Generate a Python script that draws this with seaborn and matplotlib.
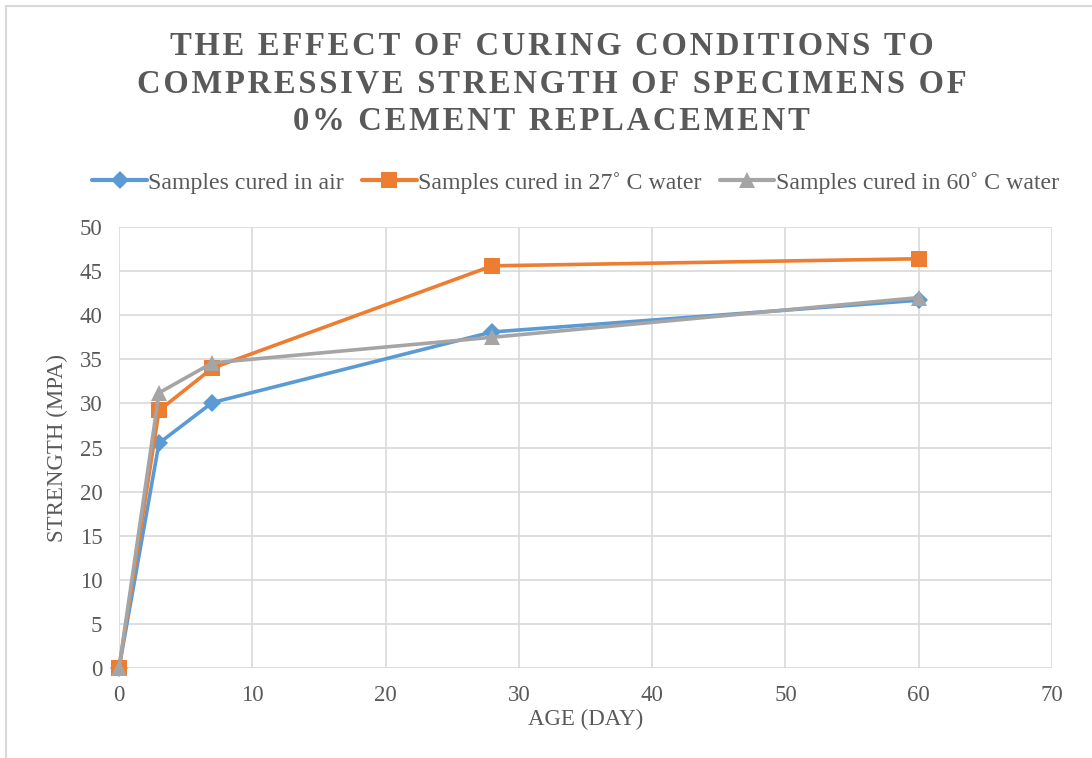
import matplotlib
matplotlib.use("Agg")
import matplotlib.pyplot as plt
from matplotlib.lines import Line2D
import seaborn as sns

# data
days = [0, 3, 7, 28, 60]
air = [0, 25.5, 30.1, 38.1, 41.7]
water_27 = [0, 29.2, 34.0, 45.6, 46.4]
water_60 = [0, 31.2, 34.6, 37.5, 42.0]

labels = ["Samples cured in air",
          "Samples cured in 27\u02da C water",
          "Samples cured in 60\u02da C water"]
title_lines = ["THE EFFECT OF CURING CONDITIONS TO",
               "COMPRESSIVE STRENGTH OF SPECIMENS OF",
               "0% CEMENT REPLACEMENT"]
colors = ["#5B9BD5", "#ED7D31", "#A5A5A5"]
markers = ["D", "s", "^"]
msizes = [9, 12, 11]

sns.set_theme(style="white")
plt.rcParams['font.family'] = ['Liberation Serif', 'DejaVu Serif']

fig = plt.figure(figsize=(10.92, 7.58), dpi=100)
ax = fig.add_axes([0.109, 0.1187, 0.8544, 0.5818])

for vals, lab, col, mk, ms in zip([air, water_27, water_60], labels, colors, markers, msizes):
    sns.lineplot(x=days, y=vals, ax=ax, color=col, marker=mk, markersize=ms,
                 markeredgewidth=0, linewidth=2.6, label=lab, legend=False, clip_on=False)

ax.set_xlim(0, 70)
ax.set_ylim(0, 50)
ax.set_xticks(range(0, 71, 10))
ax.set_yticks(range(0, 51, 5))
ax.grid(True, color="#D9D9D9", linewidth=1.2)
ax.set_axisbelow(True)
for s in ax.spines.values():
    s.set_visible(False)
ax.tick_params(axis="both", labelsize=16.5, labelcolor="#595959", length=0)
ax.tick_params(axis="x", pad=12)
ax.tick_params(axis="y", pad=12)

ax.set_xlabel("AGE (DAY)", fontsize=16.5, color="#595959", labelpad=2)
ax.set_ylabel("STRENGTH (MPA)", fontsize=16.5, color="#595959", labelpad=8)

# letter-spaced title, like the original
spaced = "\n".join("\u200a".join(line) for line in title_lines)
fig.text(0.505, 0.889, spaced, ha="center", va="center", fontsize=23.5, fontweight="bold",
         color="#595959", linespacing=1.26)

handles = [Line2D([0], [0], color=c, marker=m, markersize=s, markeredgewidth=0, linewidth=3)
           for c, m, s in zip(colors, markers, msizes)]
fig.legend(handles, labels, loc="center", bbox_to_anchor=(0.527, 0.759), ncol=3,
           frameon=False, fontsize=17.2, handlelength=2.3, handletextpad=0.05,
           columnspacing=0.75, labelcolor="#595959")

# outer chart border (top and left visible)
fig.add_artist(Line2D([6 / 1092, 1], [1 - 6 / 758, 1 - 6 / 758], transform=fig.transFigure,
                      color="#D9D9D9", linewidth=1.5))
fig.add_artist(Line2D([6 / 1092, 6 / 1092], [0, 1 - 6 / 758], transform=fig.transFigure,
                      color="#D9D9D9", linewidth=1.5))

fig.savefig("out.png", dpi=100)
